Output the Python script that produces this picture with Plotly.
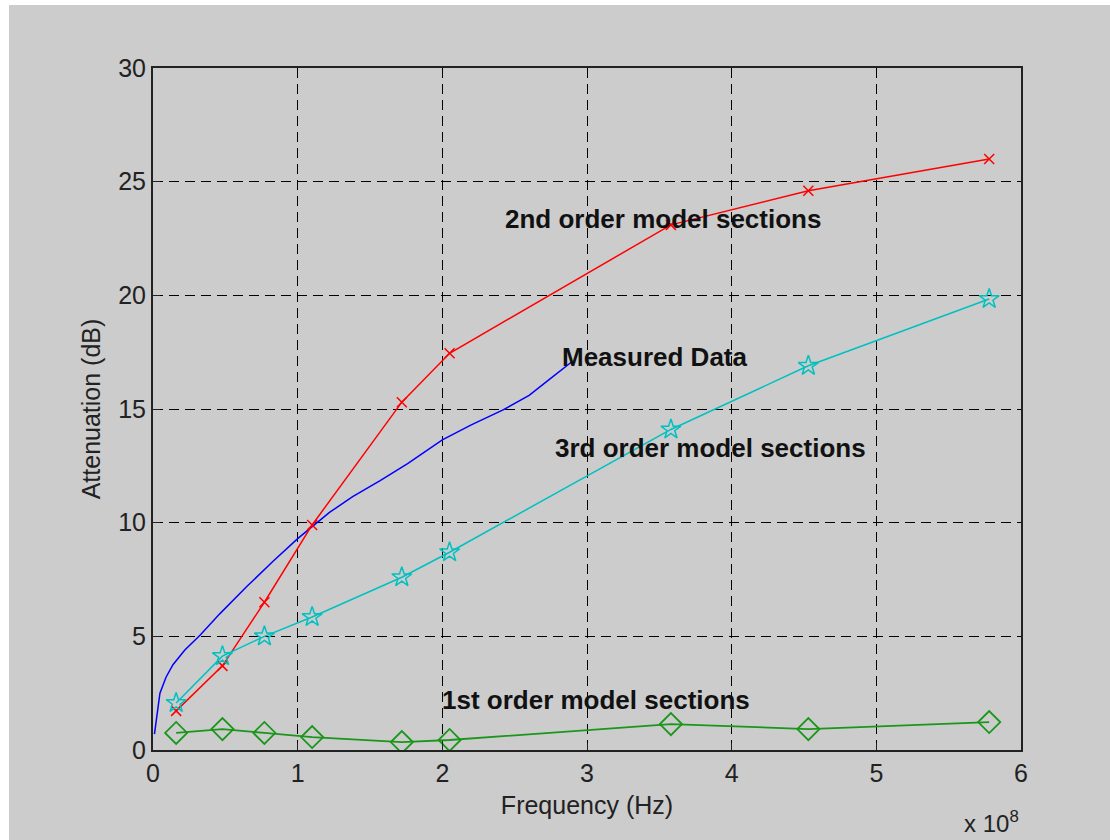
import plotly.graph_objects as go

# Frequencies in units of 1e8 Hz
freq_model = [0.16, 0.48, 0.77, 1.10, 1.72, 2.05, 3.58, 4.53, 5.78]
atten_2nd = [1.72, 3.70, 6.50, 9.90, 15.30, 17.45, 23.10, 24.60, 26.00]
atten_3rd = [2.07, 4.13, 5.00, 5.85, 7.60, 8.70, 14.10, 16.90, 19.84]
atten_1st = [0.75, 0.92, 0.75, 0.57, 0.35, 0.44, 1.14, 0.92, 1.23]

freq_meas = [0.01, 0.028, 0.048, 0.09, 0.138, 0.22, 0.325, 0.463, 0.65, 0.83,
             1.0, 1.22, 1.38, 1.57, 1.76, 2.0, 2.2, 2.42, 2.6, 2.74, 2.9]
atten_meas = [0.7, 1.54, 2.5, 3.2, 3.75, 4.4, 5.05, 6.0, 7.2, 8.3,
              9.3, 10.45, 11.15, 11.85, 12.6, 13.64, 14.3, 14.96, 15.6, 16.3, 17.1]

labels = ["2nd order model sections", "Measured Data",
          "3rd order model sections", "1st order model sections"]
label_x = [2.42, 2.81, 2.765, 1.985]
label_y = [23.36, 17.29, 13.28, 2.2]

FONT = "Liberation Sans, Arial, Helvetica"

fig = go.Figure()

fig.add_trace(go.Scatter(x=freq_meas, y=atten_meas, mode="lines",
                         line=dict(color="#0000ff", width=1.5), name="Measured"))
fig.add_trace(go.Scatter(x=freq_model, y=atten_2nd, mode="lines+markers",
                         line=dict(color="#ff0000", width=1.5),
                         marker=dict(symbol="x-thin-open", size=10,
                                     line=dict(color="#ff0000", width=1.5)),
                         name="2nd"))
fig.add_trace(go.Scatter(x=freq_model, y=atten_3rd, mode="lines+markers",
                         line=dict(color="#00c0c0", width=1.5),
                         marker=dict(symbol="star-open", size=15,
                                     line=dict(color="#00c0c0", width=1.5)),
                         name="3rd"))
fig.add_trace(go.Scatter(x=freq_model, y=atten_1st, mode="lines+markers",
                         line=dict(color="#1a961a", width=1.8),
                         marker=dict(symbol="diamond-open", size=17,
                                     line=dict(color="#1a961a", width=1.8)),
                         name="1st"))

for t, xx, yy in zip(labels, label_x, label_y):
    fig.add_annotation(x=xx, y=yy, text="<b>%s</b>" % t, showarrow=False,
                       xanchor="left", yanchor="middle",
                       font=dict(family=FONT, size=26, color="#111111"))

W, H = 1110, 840
l, r, t, b = 153, 89, 68, 90
pw, ph = W - l - r, H - t - b

fig.add_annotation(xref="paper", yref="paper", x=(1021 - l) / pw, y=-(822 - (H - b)) / ph,
                   xanchor="right", yanchor="middle", showarrow=False,
                   text="x 10<sup>8</sup>",
                   font=dict(family=FONT, size=24, color="#222222"))

# gray figure background with thin white strip top/left
fig.add_shape(type="rect", xref="paper", yref="paper", layer="below",
              x0=(9 - l) / pw, x1=(W - l) / pw + 0.01,
              y0=-(b) / ph - 0.01, y1=1 + (t - 5) / ph,
              fillcolor="#cccccc", line=dict(width=0))

axis_common = dict(showgrid=True, gridcolor="#000000", griddash="10px,6px", gridwidth=1,
                   zeroline=False, showline=True, linecolor="#222222", linewidth=2,
                   mirror=True, ticks="inside", ticklen=7, tickcolor="#222222",
                   tickfont=dict(family=FONT, size=25, color="#222222"))

fig.update_layout(
    width=W, height=H,
    margin=dict(l=l, r=r, t=t, b=b),
    paper_bgcolor="#ffffff", plot_bgcolor="#ffffff",
    showlegend=False,
    xaxis=dict(range=[0, 6], dtick=1, tick0=0,
               title=dict(text="Frequency (Hz)", standoff=10,
                          font=dict(family=FONT, size=25, color="#222222")),
               **axis_common),
    yaxis=dict(range=[0, 30], dtick=5, tick0=0,
               title=dict(text="Attenuation (dB)", standoff=10,
                          font=dict(family=FONT, size=25, color="#222222")),
               **axis_common),
)

fig.write_html("out.html", config={"displayModeBar": False},
               post_script="document.body.style.margin='0';")
